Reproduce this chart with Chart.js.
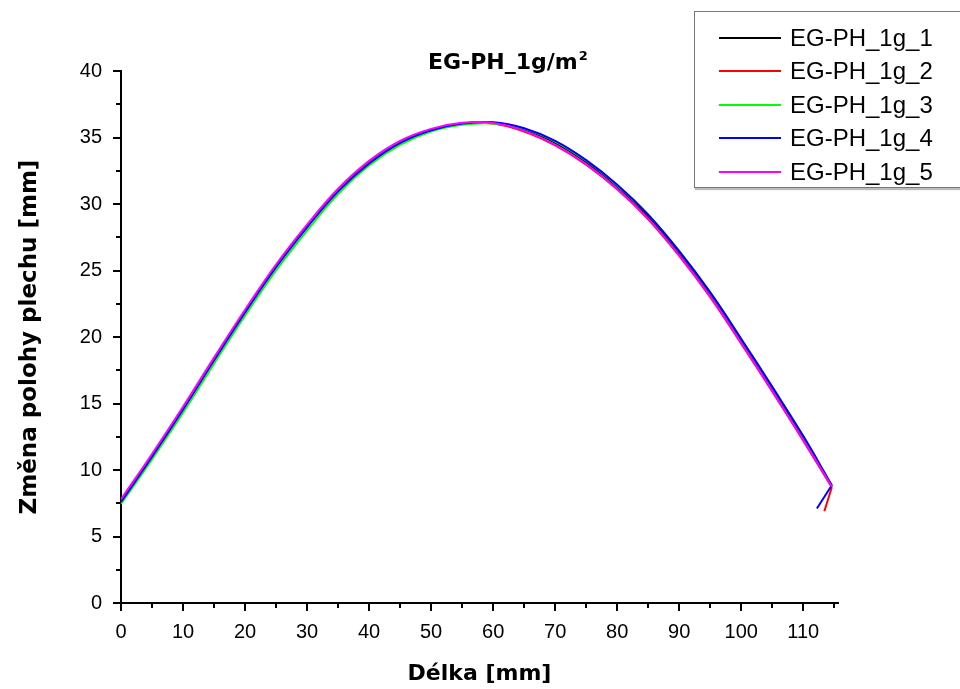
<!DOCTYPE html>
<html>
<head>
<meta charset="utf-8">
<script src="https://cdn.jsdelivr.net/npm/chart.js@4.4.0/dist/chart.umd.min.js"></script>
<style>
  body { margin: 0; background: #fff; overflow: hidden; }
  #wrap { position: relative; width: 960px; height: 689px; overflow: hidden; }
  #plot_title { position: absolute; left: 428px; top: 51px; font: bold 22px 'DejaVu Sans', sans-serif; line-height: 22px; white-space: nowrap; color: #000; }
  #plot_title span { font-size: 13px; position: relative; top: -9px; margin-left: 1px; }
  #legend_box { position: absolute; left: 694px; top: 11px; width: 290px; height: 177px; border: 1px solid #777; box-shadow: 1px 2px 1px #bbb; background: #fff; box-sizing: border-box; padding-top: 9px; }
  .lg_row { height: 33.5px; display: flex; align-items: center; }
  .lg_line { width: 62px; height: 2px; margin-left: 24px; margin-right: 9px; }
  .lg_text { font: 24px 'Liberation Sans', Arial, sans-serif; line-height: 24px; color: #000; }
</style>
</head>
<body>
<div id="wrap">
  <canvas id="chart_bend" width="960" height="689"></canvas>
  <div id="plot_title">EG-PH_1g/m<span>2</span></div>
  <div id="legend_box"></div>
</div>
<script>
// delka [mm]
const lengthMm = [0, 5, 10, 15, 20, 25, 30, 35, 40, 45, 50, 55, 60, 65, 70, 75, 80, 85, 90, 95, 100, 105, 110, 114.6];

// zmena polohy plechu [mm]
const posEG1 = [7.65, 11.05, 14.6, 18.3, 21.9, 25.3, 28.3, 31.0, 33.1, 34.6, 35.55, 36.05, 36.1, 35.6, 34.6, 33.15, 31.3, 29.05, 26.3, 23.2, 19.7, 16.1, 12.4, 8.75];
const posEG2 = [7.7, 11.1, 14.65, 18.35, 21.95, 25.35, 28.35, 31.05, 33.1, 34.6, 35.55, 36.05, 36.05, 35.45, 34.4, 32.95, 31.1, 28.85, 26.1, 23.0, 19.5, 15.9, 12.2, 8.7];
const posEG3 = [7.45, 10.8, 14.3, 18.0, 21.6, 25.0, 28.0, 30.75, 32.9, 34.45, 35.45, 35.95, 36.05, 35.65, 34.7, 33.25, 31.4, 29.2, 26.45, 23.35, 19.85, 16.25, 12.55, 8.85];
const posEG4 = [7.6, 11.0, 14.55, 18.25, 21.85, 25.25, 28.25, 30.95, 33.05, 34.6, 35.55, 36.05, 36.15, 35.7, 34.75, 33.3, 31.45, 29.2, 26.45, 23.35, 19.85, 16.25, 12.55, 8.85];
const posEG5 = [7.8, 11.2, 14.75, 18.45, 22.05, 25.45, 28.45, 31.15, 33.25, 34.75, 35.65, 36.1, 36.1, 35.5, 34.45, 33.0, 31.15, 28.9, 26.15, 23.05, 19.55, 15.95, 12.25, 8.75];

// last point after the end (only series 2 and 4)
const tailX = [null, 113.4, null, 112.2, null];
const tailY = [null, 6.9, null, 7.1, null];

const seriesNames = ['EG-PH_1g_1', 'EG-PH_1g_2', 'EG-PH_1g_3', 'EG-PH_1g_4', 'EG-PH_1g_5'];
const seriesColors = ['#000000', '#ff0000', '#00ff00', '#0000ff', '#ff00ff'];
const seriesValues = [posEG1, posEG2, posEG3, posEG4, posEG5];

const xTickValues = [0, 10, 20, 30, 40, 50, 60, 70, 80, 90, 100, 110];
const yTickValues = [0, 5, 10, 15, 20, 25, 30, 35, 40];

const xMax = 115.6;
const yMax = 40;

const tickFont = { family: "'Liberation Sans', Arial, sans-serif", size: 20 };

// ticks: major long, minor short, outwards
const axisTicks = {
  id: 'axisTicks',
  afterDraw(chart) {
    const ctx = chart.ctx;
    const xs = chart.scales.x;
    const ys = chart.scales.y;
    const area = chart.chartArea;
    ctx.save();
    ctx.strokeStyle = '#000';
    ctx.lineWidth = 2;
    ctx.beginPath();
    xTickValues.forEach(function(v) {
      let p = Math.round(xs.getPixelForValue(v));
      ctx.moveTo(p, area.bottom);
      ctx.lineTo(p, area.bottom + 8);
      if (v + 5 <= xMax) {
        p = Math.round(xs.getPixelForValue(v + 5));
        ctx.moveTo(p, area.bottom);
        ctx.lineTo(p, area.bottom + 5);
      }
    });
    yTickValues.forEach(function(v) {
      let p = Math.round(ys.getPixelForValue(v));
      ctx.moveTo(area.left, p);
      ctx.lineTo(area.left - 8, p);
      if (v + 2.5 <= yMax) {
        p = Math.round(ys.getPixelForValue(v + 2.5));
        ctx.moveTo(area.left, p);
        ctx.lineTo(area.left - 5, p);
      }
    });
    ctx.stroke();
    ctx.restore();
  }
};

Chart.defaults.color = '#000';

let datasets = [];
for (var i = 0; i < seriesNames.length; i++) {
  let vals = seriesValues[i];
  let pts = lengthMm.map(function(x, k) { return { x: x, y: vals[k] }; });
  datasets.push({
    label: seriesNames[i],
    data: pts,
    borderColor: seriesColors[i],
    backgroundColor: seriesColors[i],
    borderWidth: 2,
    pointRadius: 0,
    tension: 0.4,
    fill: false,
    order: seriesNames.length - i
  });
  // short straight piece back from the end point
  if (tailX[i] != null) {
    let last = lengthMm.length - 1;
    datasets.push({
      label: seriesNames[i] + ' end',
      data: [{ x: lengthMm[last], y: vals[last] }, { x: tailX[i], y: tailY[i] }],
      borderColor: seriesColors[i],
      borderWidth: 2,
      pointRadius: 0,
      tension: 0,
      fill: false,
      order: seriesNames.length - i
    });
  }
}

new Chart(document.getElementById('chart_bend'), {
  type: 'line',
  data: { datasets: datasets },
  options: {
    responsive: false,
    animation: false,
    devicePixelRatio: 1,
    layout: { padding: { top: 71, right: 122, bottom: 0, left: 0 } },
    plugins: {
      legend: { display: false },
      tooltip: { enabled: false }
    },
    scales: {
      x: {
        type: 'linear',
        min: 0,
        max: xMax,
        afterBuildTicks: function(scale) {
          scale.ticks = xTickValues.map(function(v) { return { value: v }; });
        },
        afterFit: function(scale) { scale.height = 86; },
        grid: { display: false, drawTicks: false },
        border: { display: true, color: '#000', width: 2 },
        ticks: { font: tickFont, padding: 17, maxRotation: 0, autoSkip: false, color: '#000' },
        title: {
          display: true,
          text: 'Délka [mm]',
          font: { family: "'DejaVu Sans', sans-serif", size: 22, weight: 'bold' },
          padding: { top: 0, bottom: 2 },
          color: '#000'
        }
      },
      y: {
        type: 'linear',
        min: 0,
        max: yMax,
        afterBuildTicks: function(scale) {
          scale.ticks = yTickValues.map(function(v) { return { value: v }; });
        },
        afterFit: function(scale) { scale.width = 121; },
        grid: { display: false, drawTicks: false },
        border: { display: true, color: '#000', width: 2 },
        ticks: { font: tickFont, padding: 19, autoSkip: false, color: '#000' },
        title: {
          display: true,
          text: 'Změna polohy plechu [mm]',
          font: { family: "'DejaVu Sans', sans-serif", size: 23, weight: 'bold' },
          padding: { top: 16, bottom: 0 },
          color: '#000'
        }
      }
    }
  },
  plugins: [axisTicks]
});

// legend
let legendBox = document.getElementById('legend_box');
for (var i = 0; i < seriesNames.length; i++) {
  let row = document.createElement('div');
  row.className = 'lg_row';
  row.innerHTML = '<div class="lg_line" style="background:' + seriesColors[i] + '"></div><div class="lg_text">' + seriesNames[i] + '</div>';
  legendBox.appendChild(row);
}
</script>
</body>
</html>
